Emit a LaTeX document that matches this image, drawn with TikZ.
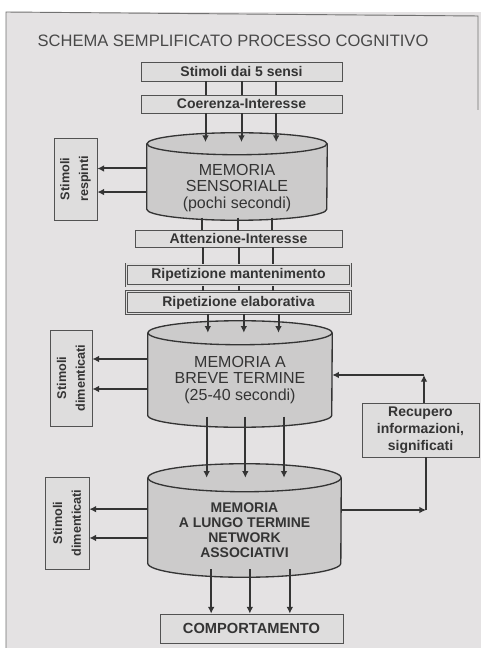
\documentclass[tikz,border=0pt]{standalone}
\usepackage{fontspec}
\setmainfont{Liberation Sans}
\usetikzlibrary{arrows.meta,positioning,backgrounds}
\definecolor{pagebg}{HTML}{E4E2E3}
\definecolor{cylgray}{HTML}{CCCBCB}
\definecolor{boxgray}{HTML}{DEDDDD}
\definecolor{ink}{HTML}{343434}
\tikzset{>={Latex[width=5pt,length=5pt]}}

% memory cylinder round a node: #1 node, #2 x radius, #3 y radius
\newcommand{\memshape}[3]{%
  \fill[cylgray] ([yshift=#3]#1.north west) -- ([yshift=#3]#1.south west)
    arc[start angle=180, end angle=360, x radius=#2, y radius=#3]
    -- ([yshift=#3]#1.north east) arc[start angle=0, end angle=180, x radius=#2, y radius=#3] -- cycle;
  \draw[ink, line width=1pt] ([yshift=#3]#1.north west) -- ([yshift=#3]#1.south west)
    arc[start angle=180, end angle=360, x radius=#2, y radius=#3] -- ([yshift=#3]#1.north east);
  \draw[ink, line width=1pt] ([yshift=#3]#1.north) ellipse [x radius=#2, y radius=#3];
}

\begin{document}
\begin{tikzpicture}[x=0.75pt, y=-0.75pt,
    stepbox/.style={draw=ink!85, line width=0.6pt, fill=boxgray, text=ink, inner sep=0pt,
      font=\bfseries\fontsize{10.5}{12}\selectfont},
    twinbox/.style={stepbox, double=boxgray, double distance=1.4pt, line width=0.5pt},
    sidebox/.style={stepbox, rotate=90, align=center, font=\bfseries\fontsize{9.5}{14}\selectfont},
    memory/.style={inner sep=0pt},
    memtext/.style={align=center, text=ink, font=\fontsize{12}{12.6}\selectfont},
    conn/.style={->, draw=ink, line width=1.5pt},
    link/.style={draw=ink, line width=1.5pt}]

  \useasboundingbox (0,0) rectangle (481,648);

  \node[text=ink!90, font=\fontsize{12.4}{14}\selectfont] (title) at (233,41) {SCHEMA SEMPLIFICATO PROCESSO COGNITIVO};

  % boxes down the middle
  \node[stepbox, minimum width=150.75pt, minimum height=14.25pt] (sensi) at (241.5,71.5) {Stimoli dai 5 sensi};
  \node[stepbox, minimum width=150.75pt, minimum height=13.5pt] (coer) at (241.5,104) {Coerenza-Interesse};
  \node[memory, minimum width=135pt, minimum height=48.75pt] (cylS) at (237,187.5) {};
  \node[memtext] (txtS) at (237,188) {MEMORIA\\SENSORIALE\\(pochi secondi)};
  \node[stepbox, minimum width=155.25pt, minimum height=12.75pt] (atten) at (238.5,238.5) {Attenzione-Interesse};
  \node[twinbox, minimum width=168pt, minimum height=16pt] (riman) at (238.5,275) {Ripetizione mantenimento};
  \node[twinbox, minimum width=168pt, minimum height=16.5pt] (rielab) at (238.5,302.5) {Ripetizione elaborativa};
  \node[memory, minimum width=138pt, minimum height=61.5pt] (cylB) at (240,386) {};
  \node[memtext] (txtB) at (240,380) {MEMORIA A\\BREVE TERMINE\\(25-40 secondi)};
  \node[memory, minimum width=144.75pt, minimum height=63.75pt] (cylL) at (244.5,534.5) {};
  \node[memtext, font=\bfseries\fontsize{10.5}{11.3}\selectfont] (txtL) at (244.5,530) {MEMORIA\\A LUNGO TERMINE\\NETWORK\\ASSOCIATIVI};
  \node[stepbox, minimum width=137.25pt, minimum height=21.75pt, font=\bfseries\fontsize{11}{12}\selectfont] (comp) at (251.5,628.5) {COMPORTAMENTO};

  % side boxes
  \node[sidebox, minimum width=61.5pt, minimum height=32.25pt] (resp) at (75.5,179) {Stimoli\\respinti};
  \node[sidebox, minimum width=72pt, minimum height=31.5pt] (dimB) at (71,378) {Stimoli\\dimenticati};
  \node[sidebox, minimum width=69pt, minimum height=33pt] (dimL) at (67,523) {Stimoli\\dimenticati};
  \node[stepbox, align=center, minimum width=87.75pt, minimum height=40.5pt,
        font=\bfseries\fontsize{10.5}{12.8}\selectfont] (recup) at (420.5,430) {Recupero\\informazioni,\\significati};

  % page and cylinders behind the texts
  \begin{scope}[on background layer]
    \fill[white] (0,0) rectangle (481,648);
    \fill[pagebg] (6,12) rectangle (481,648);
    \draw[ink!70, line width=0.7pt] (6,648) -- (6,12) -- (478,16) -- (478,110);
    \memshape{cylS}{67.5pt}{8.25pt}
    \memshape{cylB}{69pt}{9pt}
    \memshape{cylL}{72.4pt}{10.5pt}
  \end{scope}

  % flow down
  \foreach \dx in {-27,0,26} {
    \draw[link] ([xshift=\dx]sensi.south) -- ([xshift=\dx]sensi.south |- coer.north);
    \draw[conn] ([xshift=\dx]coer.south) -- ([xshift=\dx,yshift=9.5pt]coer.south |- cylS.north);
    \draw[link] ([xshift=\dx+0.5,yshift=2pt]cylS.south) -- ([xshift=\dx+0.5]cylS.south |- atten.north);
    \draw[link] ([xshift=\dx]atten.south) -- ([xshift=\dx]atten.south |- riman.north);
    \draw[link] ([xshift=\dx]riman.south) -- ([xshift=\dx]riman.south |- rielab.north);
    \draw[conn] ([xshift=\dx+4]rielab.south) -- ([xshift=\dx+4,yshift=9pt]rielab.south |- cylB.north);
  }
  \foreach \dx in {-25,4,33} {
    \draw[conn] ([xshift=\dx,yshift=8pt]cylB.south) -- ([xshift=\dx,yshift=10.5pt]cylB.south |- cylL.north);
  }
  \foreach \dx in {-25,4,34} {
    \draw[conn] ([xshift=\dx,yshift=6pt]cylL.south) -- ([xshift=\dx]cylL.south |- comp.north);
  }

  % stimuli pushed out
  \foreach \dy in {14.25,-3.4} {
    \draw[conn] ([yshift=\dy]cylS.west) -- ([yshift=\dy]cylS.west -| resp.south);
  }
  \foreach \dy in {20.25,-2.25} {
    \draw[conn] ([yshift=\dy]cylB.west) -- ([yshift=\dy]cylB.west -| dimB.south);
  }
  \foreach \dy in {19,-2.6} {
    \draw[conn] ([yshift=\dy]cylL.west) -- ([yshift=\dy]cylL.west -| dimL.south);
  }

  % recall loop
  \coordinate (fbLow) at (426,510);
  \coordinate (fbHigh) at (424,375);
  \draw[conn] (cylL.east |- fbLow) -- (fbLow);
  \draw[link] (fbLow) -- (recup.south -| fbLow);
  \draw[conn] (recup.north -| fbHigh) -- (fbHigh);
  \draw[conn] (fbHigh) -- (cylB.east |- fbHigh);
\end{tikzpicture}
\end{document}
